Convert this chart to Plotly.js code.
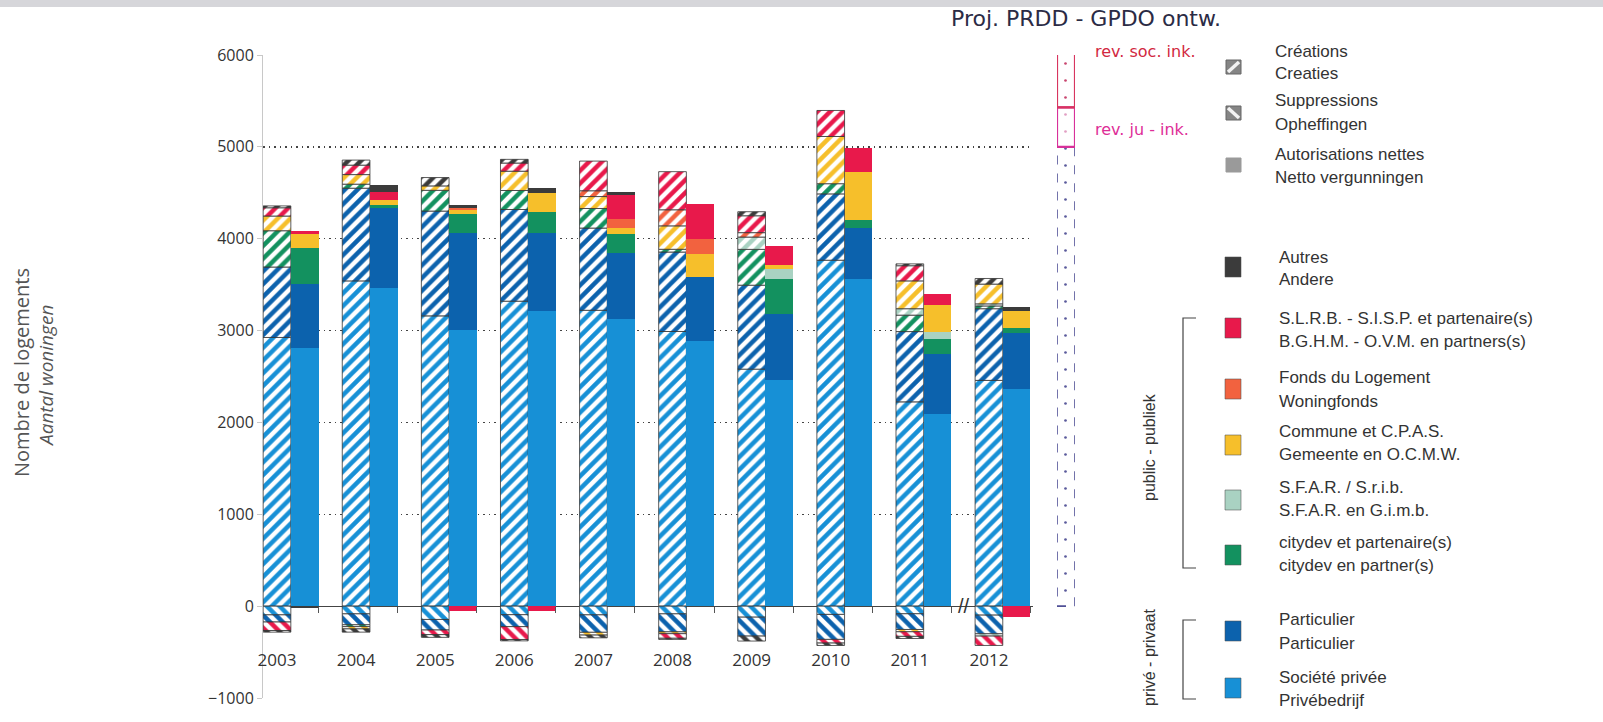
<!DOCTYPE html>
<html><head><meta charset="utf-8">
<script src="https://cdn.plot.ly/plotly-3.0.1.min.js"></script>
<style>html,body{margin:0;padding:0;background:#fff}#chart{width:1603px;height:722px}</style>
</head><body><div id="chart"></div>
<script>
// ---------------- DATA ----------------
const years = ['2003','2004','2005','2006','2007','2008','2009','2010','2011','2012'];

// Créations / Creaties (hatched "/")
const creaSociete     = [2925, 3541, 3160, 3320, 3221, 2990, 2580, 3766, 2224, 2458];
const creaParticulier = [767, 1009, 1141, 998, 895, 865, 914, 722, 765, 780];
const creaCitydev     = [395, 44, 226, 207, 213, 30, 390, 111, 179, 30];
const creaSfar        = [0, 0, 0, 0, 0, 0, 134, 0, 70, 23];
const creaCommune     = [160, 104, 48, 210, 130, 255, 0, 514, 303, 215];
const creaFonds       = [0, 0, 0, 0, 63, 175, 48, 0, 0, 0];
const creaSlrb        = [90, 103, 0, 89, 323, 415, 184, 283, 165, 0];
const creaAutres      = [20, 55, 91, 40, 0, 0, 44, 0, 20, 61];

// Suppressions / Opheffingen (hatched "\")
const supSociete      = [-95, -84, -145, -93, -95, -84, -120, -90, -83, -98];
const supParticulier  = [-78, -119, -115, -130, -190, -196, -206, -272, -171, -203];
const supCitydev      = [0, -20, 0, 0, 0, 0, 0, 0, 0, 0];
const supSfar         = [0, 0, 0, 0, 0, 0, 0, 0, 0, -25];
const supCommune      = [0, -25, 0, 0, -30, -20, 0, 0, -25, 0];
const supFonds        = [0, 0, 0, 0, 0, 0, 0, 0, 0, 0];
const supSlrb         = [-92, 0, -50, -140, 0, -50, 0, -40, -50, -102];
const supAutres       = [-18, -35, -30, -15, -30, -12, -54, -26, -23, 0];

// Autorisations nettes / Netto vergunningen (solid)
const netSociete      = [2805, 3459, 3007, 3210, 3125, 2883, 2459, 3558, 2090, 2365];
const netParticulier  = [700, 870, 1057, 854, 721, 701, 726, 561, 657, 606];
const netCitydev      = [392, 38, 210, 229, 207, 0, 375, 82, 164, 54];
const netSfar         = [0, 0, 0, 0, 0, 0, 107, 0, 71, 0];
const netCommune      = [156, 55, 38, 202, 63, 254, 43, 523, 292, 184];
const netFonds        = [0, 0, 25, 0, 96, 160, 0, 0, 0, 0];
const netSlrb         = [33, 92, -55, -55, 265, 380, 209, 262, 124, -115];
const netAutres       = [-15, 74, 30, 55, 29, 0, 0, 0, 0, 53];

// Handwritten projection column
const projLabels = ['Proj. PRDD - GPDO ontw.', 'rev. ju - ink.', 'rev. soc. ink.'];
const projValues = [5000, 430, 810];

// Legend texts
const seriesNames = [
  ['Société privée', 'Privébedrijf'],
  ['Particulier', 'Particulier'],
  ['citydev et partenaire(s)', 'citydev en partner(s)'],
  ['S.F.A.R. / S.r.i.b.', 'S.F.A.R. en G.i.m.b.'],
  ['Commune et C.P.A.S.', 'Gemeente en O.C.M.W.'],
  ['Fonds du Logement', 'Woningfonds'],
  ['S.L.R.B. - S.I.S.P. et partenaire(s)', 'B.G.H.M. - O.V.M. en partners(s)'],
  ['Autres', 'Andere']
];
const typeNames = [['Créations','Creaties'], ['Suppressions','Opheffingen'], ['Autorisations nettes','Netto vergunningen']];
const groupLabels = ['public - publiek', 'privé - privaat'];
const yTitle = ['Nombre de logements', 'Aantal woningen'];

// ---------------- STYLE ----------------
const colors = ['#1790d6', '#0c62ad', '#13915f', '#a9d2c2', '#f6bf2b', '#f2623f', '#e8194b', '#3b3b3b'];
const crea = [creaSociete, creaParticulier, creaCitydev, creaSfar, creaCommune, creaFonds, creaSlrb, creaAutres];
const sup  = [supSociete, supParticulier, supCitydev, supSfar, supCommune, supFonds, supSlrb, supAutres];
const net  = [netSociete, netParticulier, netCitydev, netSfar, netCommune, netFonds, netSlrb, netAutres];

const W = 1603, H = 722, L = 263, R = 528, T = 55, B = 24;
const PW = W - L - R, PH = H - T - B;
const px = v => (v - L) / PW;
const py = v => (H - B - v) / PH;
const BAR_W = 0.35, NET_OFF = 0.35;
const xRange = [-0.177, 9.557];
const D = 770 / PW;
const nz = a => a.map(v => v === 0 ? null : v);

const traces = [];
function hatched(vals, color, shape, name) {
  traces.push({
    type: 'bar', name: name, x: years.map((_, i) => i), y: nz(vals), width: BAR_W,
    marker: {color: 'white', line: {color: '#333', width: 0.8},
      pattern: {shape: shape, fgcolor: color, bgcolor: 'white', size: 9, solidity: 0.5, fillmode: 'replace'}},
    showlegend: false, hoverinfo: 'x+y+name', xaxis: 'x', yaxis: 'y'
  });
}
crea.forEach((a, k) => hatched(a, colors[k], '/', seriesNames[k][0]));
sup.forEach((a, k) => hatched(a, colors[k], '\\', seriesNames[k][0]));
net.forEach((a, k) => traces.push({
  type: 'bar', name: seriesNames[k][0], x: years.map((_, i) => i + NET_OFF), y: nz(a), width: BAR_W,
  marker: {color: colors[k], line: {width: 0}}, showlegend: false, xaxis: 'x', yaxis: 'y'
}));
// dummy for boundary-tick axis
traces.push({type: 'scatter', x: [null], y: [null], xaxis: 'x2', yaxis: 'y', showlegend: false, hoverinfo: 'skip'});

// projection column
const projFg = ['#5b5b9c', '#e29fc4', '#c94670'];
const projLine = ['#505096', '#d8309a', '#d8355f'];
projValues.forEach((v, k) => traces.push({
  type: 'bar', name: projLabels[k], x: [0], y: [v], width: 1, xaxis: 'x3', yaxis: 'y3',
  marker: {color: 'white', line: {width: 0},
    pattern: {shape: '.', fgcolor: projFg[k], bgcolor: 'white', size: 17, solidity: 0.02, fillmode: 'replace'}},
  showlegend: false
}));

const shapes = [];
const annotations = [];
let cum = 0;
projValues.forEach((v, k) => {
  shapes.push({type: 'rect', xref: 'x3', yref: 'y3', x0: -0.5, x1: 0.5, y0: cum, y1: cum + v,
    line: {color: projLine[k], width: k === 0 ? 1.6 : 2.2, dash: k === 0 ? 'dash' : 'solid'}, fillcolor: 'rgba(0,0,0,0)'});
  cum += v;
});

// scan strip on top
shapes.push({type: 'rect', xref: 'paper', yref: 'paper', x0: px(0), x1: px(W), y0: py(7), y1: py(0),
  fillcolor: '#d6d6da', line: {width: 0}, layer: 'below'});

// legend
const LF = {family: 'Liberation Sans, Arial, sans-serif', size: 17, color: '#333'};
function txt(x, y, t, font, extra) {
  annotations.push(Object.assign({xref: 'paper', yref: 'paper', x: px(x), y: py(y), text: t, showarrow: false,
    xanchor: 'left', yanchor: 'middle', font: font}, extra || {}));
}
// type icons
const typeRows = [[51, 73, 67], [101, 125, 113], [154, 177, 165]];
typeRows.forEach((r, k) => {
  txt(1273, r[0], typeNames[k][0], LF); txt(1273, r[1], typeNames[k][1], LF);
  const x0 = 1226, x1 = 1241, y0 = r[2] - 7, y1 = r[2] + 7;
  shapes.push({type: 'rect', xref: 'paper', yref: 'paper', x0: px(x0), x1: px(x1), y0: py(y1), y1: py(y0),
    fillcolor: k === 2 ? '#9a9a9a' : '#858585', line: {color: k === 2 ? '#9a9a9a' : '#666', width: 1}});
  if (k === 0) shapes.push({type: 'line', xref: 'paper', yref: 'paper', x0: px(x0 + 2), y0: py(y1 - 2), x1: px(x1 - 2), y1: py(y0 + 2), line: {color: '#f2f2f2', width: 3.5}});
  if (k === 1) shapes.push({type: 'line', xref: 'paper', yref: 'paper', x0: px(x0 + 2), y0: py(y0 + 2), x1: px(x1 - 2), y1: py(y1 - 2), line: {color: '#f2f2f2', width: 3.5}});
});
// colour icons (top = Autres ... bottom = Société privée)
const colRows = [[677, 700, 688], [619, 643, 631], [542, 565, 555], [487, 510, 500], [431, 454, 445], [378, 402, 389], [318, 341, 328], [257, 279, 267]];
colRows.forEach((r, k) => {
  txt(1277, r[0], seriesNames[k][0], LF); txt(1277, r[1], seriesNames[k][1], LF);
  shapes.push({type: 'rect', xref: 'paper', yref: 'paper', x0: px(1225), x1: px(1241), y0: py(r[2] + 10), y1: py(r[2] - 10),
    fillcolor: colors[k], line: {color: 'rgba(80,80,80,0.55)', width: 1}});
});
// brackets
[[318, 568], [620, 699]].forEach(b => {
  shapes.push({type: 'path', xref: 'paper', yref: 'paper',
    path: `M ${px(1196)} ${py(b[0])} L ${px(1183)} ${py(b[0])} L ${px(1183)} ${py(b[1])} L ${px(1196)} ${py(b[1])}`,
    line: {color: '#444', width: 1.2}});
});
annotations.push({xref: 'paper', yref: 'paper', x: px(1149), y: py(447), text: groupLabels[0], textangle: -90, showarrow: false,
  xanchor: 'center', yanchor: 'middle', font: {family: LF.family, size: 16, color: '#333'}});
annotations.push({xref: 'paper', yref: 'paper', x: px(1149), y: py(658), text: groupLabels[1], textangle: -90, showarrow: false,
  xanchor: 'center', yanchor: 'middle', font: {family: LF.family, size: 16, color: '#333'}});

// y title
annotations.push({xref: 'paper', yref: 'paper', x: px(21), y: py(372), text: yTitle[0], textangle: -90, showarrow: false,
  xanchor: 'center', yanchor: 'middle', font: {family: 'Open Sans, sans-serif', size: 20, color: '#555'}});
annotations.push({xref: 'paper', yref: 'paper', x: px(46), y: py(376), text: '<i>' + yTitle[1] + '</i>', textangle: -90, showarrow: false,
  xanchor: 'center', yanchor: 'middle', font: {family: 'Open Sans, sans-serif', size: 19, color: '#555'}});

// handwritten notes
const HW = 'DejaVu Sans, sans-serif';
annotations.push({xref: 'paper', yref: 'paper', x: px(1086), y: py(18), text: projLabels[0], showarrow: false,
  xanchor: 'center', yanchor: 'middle', font: {family: HW, size: 22, color: '#2b2b45'}});
annotations.push({xref: 'paper', yref: 'paper', x: px(1093), y: py(52), text: projLabels[2], showarrow: false,
  xanchor: 'left', yanchor: 'middle', font: {family: HW, size: 16, color: '#d2283f'}});
annotations.push({xref: 'paper', yref: 'paper', x: px(1093), y: py(129), text: projLabels[1], showarrow: false,
  xanchor: 'left', yanchor: 'middle', font: {family: HW, size: 16, color: '#de2e97'}});

// axis break mark
annotations.push({xref: 'x', yref: 'y', x: 8.68, y: 0, text: '//', showarrow: false,
  font: {family: 'Liberation Sans, sans-serif', size: 20, color: '#333'}});

const layout = {
  width: W, height: H,
  margin: {l: L, r: R, t: T, b: B},
  paper_bgcolor: 'white', plot_bgcolor: 'white',
  barmode: 'relative', bargap: 0,
  font: {family: 'Open Sans, sans-serif', color: '#333'},
  xaxis: {domain: [0, D], range: xRange, anchor: 'free', position: 1 / 7,
    tickvals: years.map((_, i) => i), ticktext: years, ticks: '', showline: false, showgrid: false, zeroline: false,
    ticklabelstandoff: 42, tickfont: {size: 17, color: '#333'}, fixedrange: true},
  xaxis2: {domain: [0, D], range: xRange, overlaying: 'x', anchor: 'free', position: 1 / 7,
    tickvals: years.map((_, i) => i + 0.525), ticks: 'outside', ticklen: 6, tickcolor: '#555', tickwidth: 1,
    showticklabels: false, showgrid: false, zeroline: false, showline: false},
  yaxis: {domain: [0, 1], range: [-1000, 6000], anchor: 'x',
    tickvals: [-1000, 0, 1000, 2000, 3000, 4000, 5000, 6000],
    showgrid: true, gridcolor: '#444', griddash: '1.5px,4px', gridwidth: 1.5,
    zeroline: true, zerolinecolor: '#444', zerolinewidth: 1,
    showline: true, linecolor: '#c8c8c8', ticks: 'outside', ticklen: 5, tickcolor: '#c8c8c8',
    tickfont: {size: 16, color: '#333'}},
  xaxis3: {domain: [(1057 - L) / PW, (1090 - L) / PW], range: [-0.5, 0.5], anchor: 'y3', visible: false},
  yaxis3: {domain: [0, 1], range: [-1000, 6000], anchor: 'x3', visible: false},
  shapes: shapes,
  annotations: annotations
};

Plotly.newPlot('chart', traces, layout, {displayModeBar: false, staticPlot: true});
</script>
</body></html>
